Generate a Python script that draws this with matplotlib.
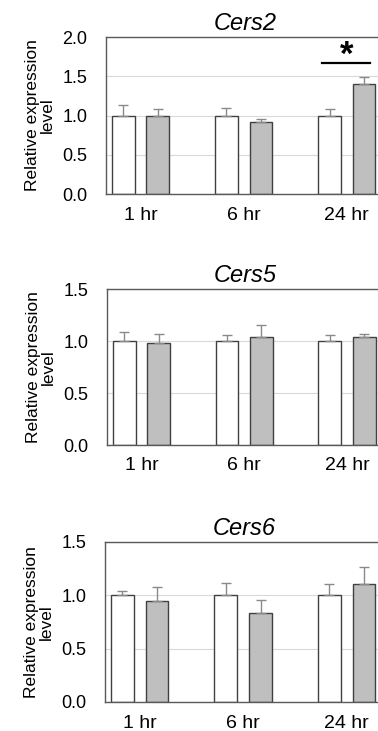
import matplotlib
matplotlib.use("Agg")
import matplotlib.pyplot as plt
import numpy as np

plt.rcParams['font.family'] = ['Liberation Sans', 'DejaVu Sans']

categories = ["1 hr", "6 hr", "24 hr"]
genes = ["Cers2", "Cers5", "Cers6"]

cers2_ctrl = [1.00, 1.00, 1.00]
cers2_ctrl_err = [0.14, 0.09, 0.08]
cers2_trt = [0.99, 0.92, 1.40]
cers2_trt_err = [0.09, 0.03, 0.09]

cers5_ctrl = [1.00, 1.00, 1.00]
cers5_ctrl_err = [0.09, 0.055, 0.055]
cers5_trt = [0.98, 1.04, 1.04]
cers5_trt_err = [0.09, 0.11, 0.03]

cers6_ctrl = [1.00, 1.00, 1.00]
cers6_ctrl_err = [0.04, 0.12, 0.11]
cers6_trt = [0.95, 0.83, 1.11]
cers6_trt_err = [0.13, 0.13, 0.16]

ymaxes = [2.0, 1.5, 1.5]
yticks_list = [[0.0, 0.5, 1.0, 1.5, 2.0], [0.0, 0.5, 1.0, 1.5], [0.0, 0.5, 1.0, 1.5]]

W, H = 378, 731
fig = plt.figure(figsize=(W / 100, H / 100), dpi=100)

# axes boxes in pixels: left, top, bottom
boxes = [(106, 37, 194), (107, 289, 445), (105, 542, 702)]
right_px = 384

data = [
    (cers2_ctrl, cers2_ctrl_err, cers2_trt, cers2_trt_err),
    (cers5_ctrl, cers5_ctrl_err, cers5_trt, cers5_trt_err),
    (cers6_ctrl, cers6_ctrl_err, cers6_trt, cers6_trt_err),
]

x = np.arange(len(categories))
bw = 0.22
off = 0.1675
edge = '#404040'
errc = '#8a8a8a'

for i, (gene, (c, ce, t, te)) in enumerate(zip(genes, data)):
    l, tp, bt = boxes[i]
    ax = fig.add_axes([l / W, 1 - bt / H, (right_px - l) / W, (bt - tp) / H])
    ax.set_axisbelow(True)
    ax.yaxis.grid(True, color='#d9d9d9', linewidth=0.8)
    ax.bar(x - off, c, bw, color='white', edgecolor=edge, linewidth=1.0,
           yerr=[np.zeros(3), ce], ecolor=errc, capsize=3.5,
           error_kw=dict(elinewidth=1.0, capthick=1.0), zorder=2)
    ax.bar(x + off, t, bw, color='#bfbfbf', edgecolor=edge, linewidth=1.0,
           yerr=[np.zeros(3), te], ecolor=errc, capsize=3.5,
           error_kw=dict(elinewidth=1.0, capthick=1.0), zorder=2)
    ax.set_xlim(-0.335, 2.36)
    ax.set_ylim(0, ymaxes[i])
    ax.set_yticks(yticks_list[i])
    ax.set_yticklabels([f"{v:.1f}" for v in yticks_list[i]], fontsize=13)
    ax.set_xticks(x)
    ax.set_xticklabels(categories, fontsize=14)
    ax.tick_params(length=0)
    ax.tick_params(axis='y', pad=13.5)
    ax.tick_params(axis='x', pad=9)
    for s in ['left', 'bottom', 'top']:
        ax.spines[s].set_color('#595959')
        ax.spines[s].set_linewidth(1.0)
    ax.spines['right'].set_visible(False)
    ax.set_title(gene, fontsize=17, style='italic', pad=5)
    ax.set_ylabel("Relative expression\nlevel", fontsize=12.5, linespacing=1.0, labelpad=5)
    if i == 0:
        ax.plot([2 - 0.245, 2 + 0.225], [1.665, 1.665], color='black', linewidth=1.6, zorder=3)
        ax.text(2.0, 1.64, "*", ha='center', va='baseline', fontsize=25,
                fontweight='bold', color='black')

fig.savefig("out.png", dpi=100)
